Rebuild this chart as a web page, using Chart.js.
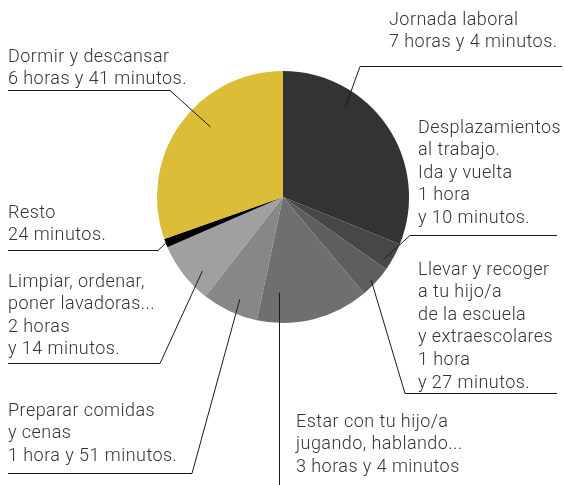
<!DOCTYPE html>
<html lang="es">
<head>
    <meta charset="UTF-8">
    <title>Un día de trabajo con hijos</title>
    <script src="https://cdn.jsdelivr.net/npm/chart.js"></script>
    <style>
        body { margin: 0; background: #fff; }
        #wrap { width: 564px; height: 485px; }
    </style>
</head>
<body>
    <div id="wrap"><canvas id="tiempoChart" width="564" height="485"></canvas></div>
    <script>
        // categorias (texto de cada etiqueta, por lineas)
        const categorias = [
            ['Jornada laboral', '7 horas y 4 minutos.'],
            ['Desplazamientos', 'al trabajo.', 'Ida y vuelta', '1 hora', 'y 10 minutos.'],
            ['Llevar y recoger', 'a tu hijo/a', 'de la escuela', 'y extraescolares', '1 hora', 'y 27 minutos.'],
            ['Estar con tu hijo/a', 'jugando, hablando...', '3 horas y 4 minutos'],
            ['Preparar comidas', 'y cenas', '1 hora y 51 minutos.'],
            ['Limpiar, ordenar,', 'poner lavadoras...', '2 horas', 'y 14 minutos.'],
            ['Resto', '24 minutos.'],
            ['Dormir y descansar', '6 horas y 41 minutos.']
        ];
        // tamaño de cada porción (grados de arco)
        const porciones = [112, 13, 15, 52, 26, 28.5, 4, 109.5];
        const colores = ['#333333', '#474747', '#5e5e5e', '#6d706e', '#878886', '#9fa09f', '#000000', '#dcbd37'];

        // donde va cada etiqueta y como se une al sector
        // x, y = primera linea; ux0/ux1/uy = subrayado; from = extremo del subrayado que sale hacia la tarta
        // t = posicion dentro del sector (0..1), rf = fraccion del radio
        const rotulos = [
            { x: 389, y: 20, ux0: 360, ux1: 562, uy: 66, from: 'left', t: 0.31, rf: 0.87 },
            { x: 418, y: 128, ux0: 410, ux1: 557, uy: 235, from: 'left', t: 0.75, rf: 0.94 },
            { x: 418, y: 270, ux0: 405, ux1: 557, uy: 393, from: 'left', t: 0.55, rf: 0.96 },
            { x: 296, y: 422, vertical: true, t: 0.82, rf: 0.76 },
            { x: 8, y: 411, ux0: 8, ux1: 192, uy: 473, from: 'right', t: 0.42, rf: 0.88 },
            { x: 8, y: 282, ux0: 8, ux1: 160, uy: 363, from: 'right', t: 0.33, rf: 0.87 },
            { x: 8, y: 213, ux0: 8, ux1: 158, uy: 250, from: 'right', t: 0.5, rf: 1.0 },
            { x: 8, y: 57, ux0: 8, ux1: 170, uy: 90, from: 'right', t: 0.58, rf: 0.8 }
        ];
        const LINEA = 22.6;

        const etiquetas = {
            id: 'etiquetas',
            afterDraw(chart) {
                const ctx = chart.ctx;
                const arcs = chart.getDatasetMeta(0).data;
                ctx.save();
                ctx.font = '300 18px "Roboto", "Liberation Sans", sans-serif';
                ctx.letterSpacing = '0.45px';
                ctx.fillStyle = '#333';
                ctx.textBaseline = 'middle';
                ctx.textAlign = 'left';
                ctx.strokeStyle = '#1a1a1a';
                ctx.lineWidth = 1;
                rotulos.forEach((r, i) => {
                    categorias[i].forEach((txt, k) => {
                        ctx.fillText(txt, r.x, r.y + k * LINEA);
                    });
                    const a = arcs[i];
                    const ang = a.startAngle + r.t * (a.endAngle - a.startAngle);
                    const px = a.x + Math.cos(ang) * a.outerRadius * r.rf;
                    const py = a.y + Math.sin(ang) * a.outerRadius * r.rf;
                    ctx.beginPath();
                    if (r.vertical) {
                        ctx.moveTo(Math.round(px) + 0.5, py);
                        ctx.lineTo(Math.round(px) + 0.5, chart.height);
                    } else {
                        const ex = r.from === 'left' ? r.ux0 : r.ux1;
                        const other = r.from === 'left' ? r.ux1 : r.ux0;
                        ctx.moveTo(other, r.uy + 0.5);
                        ctx.lineTo(ex, r.uy + 0.5);
                        ctx.lineTo(px, py);
                    }
                    ctx.stroke();
                });
                ctx.restore();
            }
        };

        new Chart(document.getElementById('tiempoChart'), {
            type: 'pie',
            data: {
                labels: categorias.map(c => c[0]),
                datasets: [{
                    data: porciones,
                    backgroundColor: colores,
                    borderWidth: 0
                }]
            },
            options: {
                responsive: false,
                animation: false,
                layout: { padding: { left: 157, right: 155, top: 71, bottom: 162 } },
                plugins: {
                    legend: { display: false },
                    tooltip: { enabled: false }
                }
            },
            plugins: [etiquetas]
        });
    </script>
</body>
</html>
